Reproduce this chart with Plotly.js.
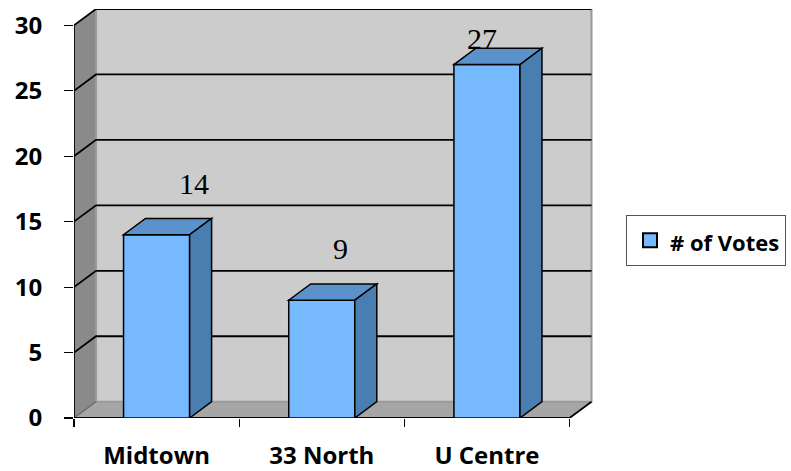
<!DOCTYPE html>
<html>
<head>
<meta charset="utf-8">
<script src="https://cdn.plot.ly/plotly-3.0.1.min.js"></script>
<style>html,body{margin:0;padding:0;background:#fff;}#chart{width:791px;height:471px;}</style>
</head>
<body>
<div id="chart"></div>
<script>
// ---- data ----
var categories = ["Midtown", "33 North", "U Centre"];
var votes = [14, 9, 27];
var seriesName = "# of Votes";
var yTickValues = [0, 5, 10, 15, 20, 25, 30];

// ---- styles ----
var labelShiftX = [37, 19, -5];
var labelShiftY = [51, 52, 26];
var DX = 0.133;   // depth offset, x units
var DY = 1.245;   // depth offset, y units
var BW = 0.4;     // bar width
var YMAX = 30;
var frontColor = "#77b9ff", topColor = "#5b92cc", sideColor = "#4a7db0";

var idx = categories.map(function (c, i) { return i; });
var x0 = -0.5, x1 = categories.length - 0.5;

function P(pts) {
  return "M" + pts.map(function (p) { return p[0] + "," + p[1]; }).join("L") + "Z";
}
function L(pts) {
  return "M" + pts.map(function (p) { return p[0] + "," + p[1]; }).join("L");
}

var shapes = [];
function sh(path, fill, lc, lw, layer) {
  shapes.push({type: "path", xref: "x", yref: "y", path: path,
    fillcolor: fill || "rgba(0,0,0,0)", line: {color: lc || "rgba(0,0,0,0)", width: lw || 0},
    layer: layer || "below"});
}
// back wall
sh(P([[x0 + DX, DY], [x1 + DX, DY], [x1 + DX, YMAX + DY], [x0 + DX, YMAX + DY]]), "#cccccc");
// left wall
sh(P([[x0, 0], [x0, YMAX], [x0 + DX, YMAX + DY], [x0 + DX, DY]]), "#8a8a8a");
// floor
sh(P([[x0, 0], [x1, 0], [x1 + DX, DY], [x0 + DX, DY]]), "#a6a6a6");
// wall joins (gray)
sh(L([[x0 + DX, YMAX + DY], [x0 + DX, DY], [x1 + DX, DY], [x1 + DX, YMAX + DY]]), null, "#9a9a9a", 2);
sh(L([[x0, 0], [x0 + DX, DY]]), null, "#666666", 1.2);
// gridlines
yTickValues.forEach(function (v) {
  if (v === 0) return;
  sh(L([[x0, v], [x0 + DX, v + DY], [x1 + DX, v + DY]]), null, "#000000", 1.8);
});
// front edges
sh(L([[x0, YMAX], [x0, 0], [x1, 0], [x1 + DX, DY]]), null, "#000000", 1.8);
// bar top and side faces
idx.forEach(function (i) {
  var v = votes[i], l = i - BW / 2, r = i + BW / 2;
  sh(P([[l, v], [r, v], [r + DX, v + DY], [l + DX, v + DY]]), topColor, "#000000", 1.5, "above");
  sh(P([[r, 0], [r, v], [r + DX, v + DY], [r + DX, DY]]), sideColor, "#000000", 1.5, "above");
});

var annotations = idx.map(function (i) {
  return {x: i, y: votes[i], xref: "x", yref: "y", text: String(votes[i]),
    showarrow: false, xshift: labelShiftX[i], yshift: labelShiftY[i],
    font: {family: "Liberation Serif, Times New Roman, serif", size: 30, color: "#000"}};
});

var barTrace = {
  type: "bar", x: idx, y: votes, name: seriesName, width: BW,
  marker: {color: frontColor, line: {color: "#000000", width: 1.5}},
  showlegend: false, hoverinfo: "skip"
};
// legend key only (square marker like the reference key)
var keyTrace = {
  type: "scatter", mode: "markers", x: [null], y: [null],
  name: '<span style="font-size:22px">' + seriesName + '</span>',
  marker: {symbol: "square", size: 14, color: frontColor, line: {color: "#000000", width: 2}},
  showlegend: true, hoverinfo: "skip"
};

var tickFont = {family: "Open Sans, Lato, sans-serif", size: 24, color: "#000", weight: "bold"};

var layout = {
  width: 791, height: 471,
  margin: {l: 74, r: 198, t: 9, b: 53, pad: 0, autoexpand: false},
  paper_bgcolor: "#ffffff", plot_bgcolor: "rgba(0,0,0,0)",
  showlegend: true,
  legend: {x: 1.0636, xanchor: "left", y: 0.496, yanchor: "top",
    bgcolor: "#ffffff", bordercolor: "#555555", borderwidth: 1, itemwidth: 30, indentation: 3,
    font: {family: "Open Sans, Lato, sans-serif", size: 27, color: "#000", weight: "bold"}},
  xaxis: {type: "linear", range: [x0, x1 + DX + 0.009], fixedrange: true,
    tickvals: idx, ticktext: categories, ticks: "", showgrid: false, zeroline: false,
    showline: false, ticklabelstandoff: 21,
    tickfont: tickFont,
    minor: {tickvals: [x0, 0.5, 1.5, x1], ticks: "outside", ticklen: 8, tickwidth: 1.2, tickcolor: "#000", showgrid: false}},
  yaxis: {range: [0, YMAX + DY], fixedrange: true, tickvals: yTickValues,
    ticks: "outside", ticklen: 9, tickwidth: 1.2, tickcolor: "#000",
    showgrid: false, zeroline: false, showline: false, ticklabelstandoff: 17,
    tickfont: tickFont},
  shapes: shapes,
  annotations: annotations
};

Plotly.newPlot("chart", [barTrace, keyTrace], layout, {displayModeBar: false, staticPlot: true});
</script>
</body>
</html>
